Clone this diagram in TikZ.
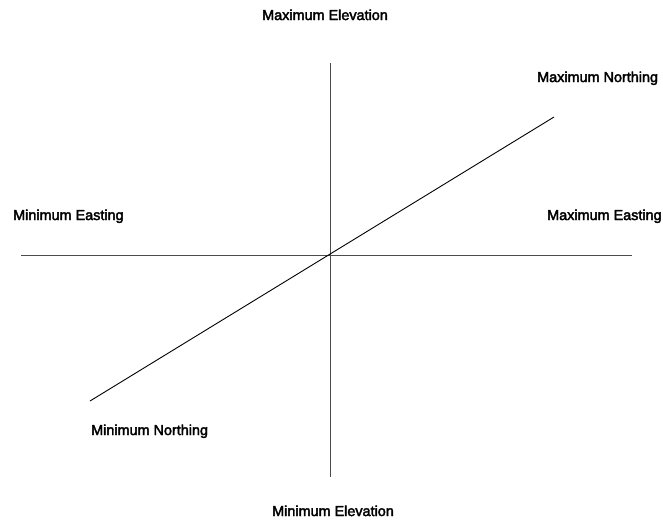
\documentclass[tikz,border=0pt]{standalone}
\usepackage{fontspec}
\setmainfont{Liberation Sans}
\newfontfamily\lblfont[FakeBold=2.6]{Liberation Sans}
\begin{document}
\begin{tikzpicture}[x=1pt,y=-1pt,
  lbl/.style={anchor=base west,inner sep=0pt,font=\lblfont\fontsize{14.4}{16}\selectfont},
  axis/.style={draw=black!70,line width=0.9pt},
  diag/.style={draw=black,line width=0.9pt}]
\useasboundingbox (0,0) rectangle (663,525);
\coordinate (vt) at (330,63);
\coordinate (vb) at (330,477);
\coordinate (hl) at (21,255);
\coordinate (hr) at (632,255);
\coordinate (dl) at (90,401);
\coordinate (dr) at (554,117);
\draw[axis] (vt) -- (vb);
\draw[axis] (hl) -- (hr);
\draw[diag] (dl) -- (dr);
\node[lbl] (maxel) at (262,20) {Maximum Elevation};
\node[lbl] (maxno) at (537,82) {Maximum Northing};
\node[lbl] (mine) at (13,220) {Minimum Easting};
\node[lbl] (maxe) at (547,220) {Maximum Easting};
\node[lbl] (minno) at (91,435) {Minimum Northing};
\node[lbl] (minel) at (272,516) {Minimum Elevation};
\end{tikzpicture}
\end{document}
